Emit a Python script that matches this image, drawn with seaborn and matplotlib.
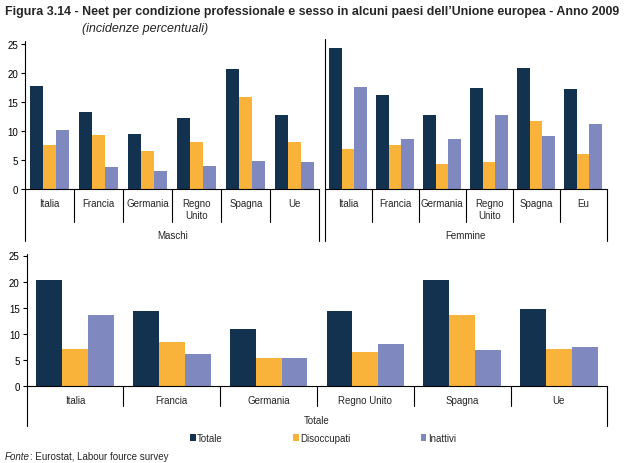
import matplotlib
matplotlib.use("Agg")
import matplotlib.pyplot as plt
import seaborn as sns
import pandas as pd
from matplotlib.lines import Line2D
from matplotlib.patches import Patch
from matplotlib.transforms import blended_transform_factory

# ---- data ----
condizioni = ["Totale", "Disoccupati", "Inattivi"]

paesi_m = ["Italia", "Francia", "Germania", "Regno\nUnito", "Spagna", "Ue"]
maschi_totale = [17.7, 13.3, 9.5, 12.2, 20.7, 12.8]
maschi_disocc = [7.6, 9.3, 6.6, 8.1, 15.8, 8.1]
maschi_inatt = [10.2, 3.8, 3.1, 4.0, 4.9, 4.7]

paesi_f = ["Italia", "Francia", "Germania", "Regno\nUnito", "Spagna", "Eu"]
femmine_totale = [24.3, 16.2, 12.7, 17.4, 20.8, 17.2]
femmine_disocc = [6.9, 7.6, 4.3, 4.7, 11.8, 6.0]
femmine_inatt = [17.6, 8.6, 8.6, 12.7, 9.1, 11.2]

paesi_t = ["Italia", "Francia", "Germania", "Regno Unito", "Spagna", "Ue"]
totale_totale = [20.4, 14.3, 10.9, 14.3, 20.4, 14.7]
totale_disocc = [7.1, 8.4, 5.4, 6.5, 13.6, 7.1]
totale_inatt = [13.6, 6.1, 5.5, 8.0, 6.9, 7.6]

colori = ["#12324f", "#f9b23a", "#7f89bf"]

W, H = 627, 464


def long_df(paesi, tot, dis, ina):
    rows = []
    for vals, c in zip([tot, dis, ina], condizioni):
        for p, v in zip(paesi, vals):
            rows.append({"paese": p, "condizione": c, "valore": v})
    return pd.DataFrame(rows)


sns.set_style("white")
plt.rcParams["font.family"] = ["Liberation Sans", "DejaVu Sans"]
plt.rcParams["font.size"] = 7

fig = plt.figure(figsize=(W / 100, H / 100), dpi=100)


def fy(ypx):
    return 1 - ypx / H


def make_axes(x0, x1, ytop, ybot):
    return fig.add_axes([x0 / W, fy(ybot), (x1 - x0) / W, (ybot - ytop) / H])


ax_m = make_axes(25.3, 319.3, 44.7, 190.3)
ax_f = make_axes(324.7, 606.7, 44.7, 190.3)
ax_t = make_axes(26.7, 607.3, 256.5, 387.3)

# ax, categories, series, group label, show y ticks, top of axis line, baseline,
# divider bottom, outer line bottom, category label y, group label y (pixels from top)
panels = [
    (ax_m, paesi_m, maschi_totale, maschi_disocc, maschi_inatt, "Maschi", True, 42, 190.3, 223.3, 242, 204, 235.7),
    (ax_f, paesi_f, femmine_totale, femmine_disocc, femmine_inatt, "Femmine", False, 40, 190.3, 223.3, 242, 204, 235.7),
    (ax_t, paesi_t, totale_totale, totale_disocc, totale_inatt, "Totale", True, 255, 387.3, 407.3, 426.7, 400.7, 420.7),
]

for (ax, paesi, tot, dis, ina, gruppo, yticks, ytop, ybase, ydiv, yout,
     ylab, ygrp) in panels:
    df = long_df(paesi, tot, dis, ina)
    sns.barplot(data=df, x="paese", y="valore", hue="condizione",
                hue_order=condizioni, order=paesi, palette=colori,
                saturation=1, width=0.8, legend=False, ax=ax,
                edgecolor="none", linewidth=0)
    ax.set_xlim(-0.5, len(paesi) - 0.5)
    ax.set_ylim(0, 25)
    ax.set_xlabel("")
    ax.set_ylabel("")
    ax.set_xticks([])
    sns.despine(ax=ax)
    ax.spines["bottom"].set_color("black")
    ax.spines["bottom"].set_linewidth(0.8)
    ax.spines["left"].set_visible(False)
    if yticks:
        ax.set_yticks([0, 5, 10, 15, 20, 25])
        ax.tick_params(axis="y", length=3, width=0.8, pad=2, labelsize=7,
                       colors="black", left=True, direction="out")
    else:
        ax.set_yticks([])
    trans = blended_transform_factory(ax.transData, fig.transFigure)
    n = len(paesi)
    ax.add_line(Line2D([-0.5, -0.5], [fy(ytop), fy(yout)],
                       transform=trans, color="black", lw=0.8, clip_on=False))
    ax.add_line(Line2D([n - 0.5, n - 0.5], [fy(ybase), fy(yout)],
                       transform=trans, color="black", lw=0.8, clip_on=False))
    for i in range(1, n):
        ax.add_line(Line2D([i - 0.5, i - 0.5], [fy(ybase), fy(ydiv)],
                           transform=trans, color="black", lw=0.8, clip_on=False))
    for i, p in enumerate(paesi):
        if "\n" in p:
            ax.text(i, fy(ylab - 5), p, transform=trans, ha="center", va="top",
                    fontsize=7, linespacing=1.25)
        else:
            ax.text(i, fy(ylab), p, transform=trans, ha="center", va="center", fontsize=7)
    ax.text((n - 1) / 2, fy(ygrp), gruppo, transform=trans,
            ha="center", va="center", fontsize=7)

# title
fig.text(5 / W, fy(12), "Figura 3.14 - Neet per condizione professionale e sesso in alcuni paesi dell\u2019Unione europea - Anno 2009",
         fontsize=8.9, fontweight="bold", ha="left", va="center")
fig.text(82 / W, fy(29), "(incidenze percentuali)", fontsize=9, fontstyle="italic",
         ha="left", va="center")

# legend
handles = [Patch(facecolor=c, edgecolor="none", label=l) for c, l in zip(colori, condizioni)]
fig.legend(handles=handles, loc="center left", bbox_to_anchor=(190 / W, fy(439)),
           ncol=3, frameon=False, fontsize=7, handlelength=0.6, handleheight=0.6,
           handletextpad=0.15, columnspacing=7.2, borderaxespad=0, borderpad=0)

# source
t = fig.text(5 / W, fy(457), "Fonte", fontsize=7, fontstyle="italic", ha="left", va="center")
ax_t.annotate(": Eurostat, Labour fource survey", xy=(1, 0.5), xycoords=t,
              fontsize=7, ha="left", va="center", annotation_clip=False)

fig.savefig("out.png", dpi=100)
